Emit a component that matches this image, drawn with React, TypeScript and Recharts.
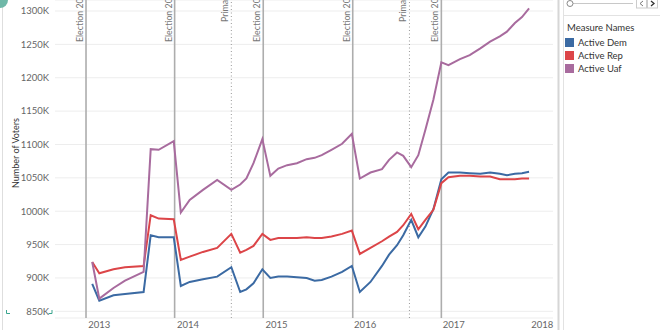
import {
  LineChart,
  Line,
  XAxis,
  YAxis,
  CartesianGrid,
  ReferenceLine,
  Legend,
} from "recharts";

// dates as decimal years, voter counts in thousands
const dates = [
  2012.92, 2013.0, 2013.16, 2013.29, 2013.5, 2013.58, 2013.67, 2013.84, 2013.92,
  2014.02, 2014.17, 2014.33, 2014.49, 2014.59, 2014.66, 2014.74, 2014.84, 2014.93,
  2015.02, 2015.12, 2015.23, 2015.34, 2015.43, 2015.51, 2015.62, 2015.74, 2015.85,
  2015.94, 2016.06, 2016.19, 2016.27, 2016.36, 2016.43, 2016.52, 2016.6, 2016.68,
  2016.77, 2016.86, 2016.94, 2017.07, 2017.18, 2017.3, 2017.41, 2017.52, 2017.6,
  2017.69, 2017.77, 2017.85,
];
const activeDem = [
  891, 866, 874, 876, 879, 964, 961, 961, 888, 894, 898, 902, 916, 879, 883, 892,
  913, 900, 902, 902, 901, 900, 896, 897, 902, 909, 918, 879, 894, 918, 935, 949,
  964, 987, 961, 977, 1003, 1048, 1058, 1058, 1057, 1056, 1058, 1056, 1054, 1056,
  1057, 1059,
];
const activeRep = [
  924, 907, 913, 916, 918, 994, 989, 988, 927, 932, 939, 945, 966, 938, 942, 948,
  966, 957, 960, 960, 960, 961, 960, 960, 962, 966, 971, 936, 945, 955, 962, 969,
  979, 996, 973, 987, 1002, 1042, 1051, 1053, 1053, 1052, 1052, 1048, 1048, 1048,
  1049, 1049,
];
const activeUaf = [
  924, 869, 885, 896, 909, 1093, 1092, 1105, 998, 1017, 1032, 1047, 1032, 1040,
  1049, 1072, 1108, 1053, 1064, 1069, 1072, 1078, 1080, 1084, 1092, 1101, 1116,
  1049, 1058, 1063, 1077, 1088, 1083, 1066, 1084, 1122, 1167, 1223, 1219, 1228,
  1234, 1244, 1254, 1262, 1269, 1282, 1291, 1304,
];

const yearTicks = [2013, 2014, 2015, 2016, 2017, 2018];
const voterTicks = [850, 900, 950, 1000, 1050, 1100, 1150, 1200, 1250, 1300];

const electionDates = [2012.85, 2013.85, 2014.85, 2015.86, 2016.86];
const electionLabels = [
  "Election 2012",
  "Election 2013",
  "Election 2014",
  "Election 2015",
  "Election 2016",
];
const primaryDates = [2014.49, 2016.5];
const primaryLabels = ["Primary 2014", "Primary 2016"];

const seriesNames = ["Active Dem", "Active Rep", "Active Uaf"];
const seriesKeys = ["dem", "rep", "uaf"];
const seriesColors = ["#3b6aa3", "#dc4548", "#a86b9e"];

const data = dates.map((d, i) => ({
  date: d,
  dem: activeDem[i],
  rep: activeRep[i],
  uaf: activeUaf[i],
}));

const FONT = "Lato, 'Open Sans', sans-serif";

const refLabel = (text: string, bottom: number) => (props: any) => {
  const vb = props.viewBox || {};
  const x = (vb.x ?? 0) - 3;
  return (
    <text
      x={x}
      y={bottom}
      transform={`rotate(-90 ${x} ${bottom})`}
      fontSize={8.8}
      fill="#777"
      fontFamily={FONT}
    >
      {text}
    </text>
  );
};

function LegendBox() {
  return (
    <div style={{ fontFamily: FONT, fontSize: 9.5, color: "#333" }}>
      <div style={{ height: 13, lineHeight: "13px", paddingLeft: 2, marginBottom: 2 }}>
        Measure Names
      </div>
      {seriesNames.map((name, i) => (
        <div
          key={name}
          style={{ height: 13, lineHeight: "13px", display: "flex", alignItems: "center" }}
        >
          <span
            style={{
              width: 9,
              height: 9,
              background: seriesColors[i],
              marginRight: 4,
              display: "inline-block",
            }}
          />
          {name}
        </div>
      ))}
    </div>
  );
}

export default function App() {
  return (
    <div
      style={{
        position: "fixed",
        left: 0,
        top: 0,
        width: 660,
        height: 330,
        overflow: "hidden",
        background: "#fff",
        fontFamily: FONT,
      }}
    >
      <LineChart
        width={660}
        height={330}
        data={data}
        margin={{ top: 0, right: 107, bottom: 0, left: 0 }}
      >
        <CartesianGrid vertical={false} stroke="#ededed" />
        <XAxis
          dataKey="date"
          type="number"
          domain={[2012.5, 2018.12]}
          ticks={yearTicks}
          allowDataOverflow
          axisLine={false}
          tickLine={false}
          tickSize={3}
          tickMargin={0}
          height={12}
          tick={{ fontSize: 9.5, fill: "#666", fontFamily: FONT }}
        />
        <YAxis
          type="number"
          domain={[840, 1316.5]}
          ticks={voterTicks}
          allowDataOverflow
          axisLine={false}
          tickLine={false}
          tickSize={6}
          tickMargin={0}
          width={55}
          tickFormatter={(v: number) => `${v}K`}
          tick={{ fontSize: 9.5, fill: "#666", fontFamily: FONT }}
          label={{
            value: "Number of Voters",
            angle: -90,
            position: "insideLeft",
            offset: 16,
            dy: -6,
            style: { fontSize: 9, fill: "#333", fontFamily: FONT, textAnchor: "middle" },
          }}
        />
        {electionDates.map((d, i) => (
          <ReferenceLine
            key={electionLabels[i]}
            x={d}
            stroke="#adadad"
            strokeWidth={1.6}
            label={refLabel(electionLabels[i], 42)}
          />
        ))}
        {primaryDates.map((d, i) => (
          <ReferenceLine
            key={primaryLabels[i]}
            x={d}
            stroke="#999"
            strokeWidth={1}
            strokeDasharray="1 2.5"
            label={refLabel(primaryLabels[i], 22)}
          />
        ))}
        {seriesKeys.map((k, i) => (
          <Line
            key={k}
            type="linear"
            dataKey={k}
            name={seriesNames[i]}
            stroke={seriesColors[i]}
            strokeWidth={2}
            dot={false}
            isAnimationActive={false}
          />
        ))}
        <Legend
          layout="vertical"
          align="center"
          verticalAlign="middle"
          content={() => <LegendBox />}
          wrapperStyle={{ position: "absolute", left: 565, top: 21, width: 95, height: 60 }}
        />
      </LineChart>
      <svg
        width={660}
        height={330}
        style={{ position: "absolute", left: 0, top: 0, pointerEvents: "none" }}
      >
        <line x1={2.5} y1={0} x2={2.5} y2={330} stroke="#dedede" strokeWidth={1} />
        <path d="M0 0 L8 0 A8 8 0 0 1 0 8 Z" fill="#6fb8a8" />
        <path d="M6.5 310 L6.5 313.5 L10 313.5" stroke="#3aa58e" fill="none" strokeWidth={1} />
        <path d="M48.5 313.5 L52 313.5 L52 310" stroke="#3aa58e" fill="none" strokeWidth={1} />
        <line x1={558.5} y1={0} x2={558.5} y2={330} stroke="#d6d6d6" strokeWidth={2} />
        <line x1={563.5} y1={0} x2={563.5} y2={330} stroke="#e2e2e2" strokeWidth={1} />
        <line x1={563} y1={15.5} x2={660} y2={15.5} stroke="#e2e2e2" strokeWidth={1} />
        <line x1={573} y1={3.5} x2={633} y2={3.5} stroke="#c8c8c8" strokeWidth={1} />
        <circle cx={570} cy={3.5} r={3} fill="#fff" stroke="#888" strokeWidth={1} />
        <rect x={636.5} y={-2} width={10} height={10} fill="#fff" stroke="#ccc" />
        <rect x={647.5} y={-2} width={10} height={10} fill="#fff" stroke="#ccc" />
        <path d="M643 1 L640 3.5 L643 6" stroke="#777" fill="none" strokeWidth={1} />
        <path d="M651 1 L654 3.5 L651 6" stroke="#333" fill="none" strokeWidth={1.3} />
      </svg>
    </div>
  );
}
